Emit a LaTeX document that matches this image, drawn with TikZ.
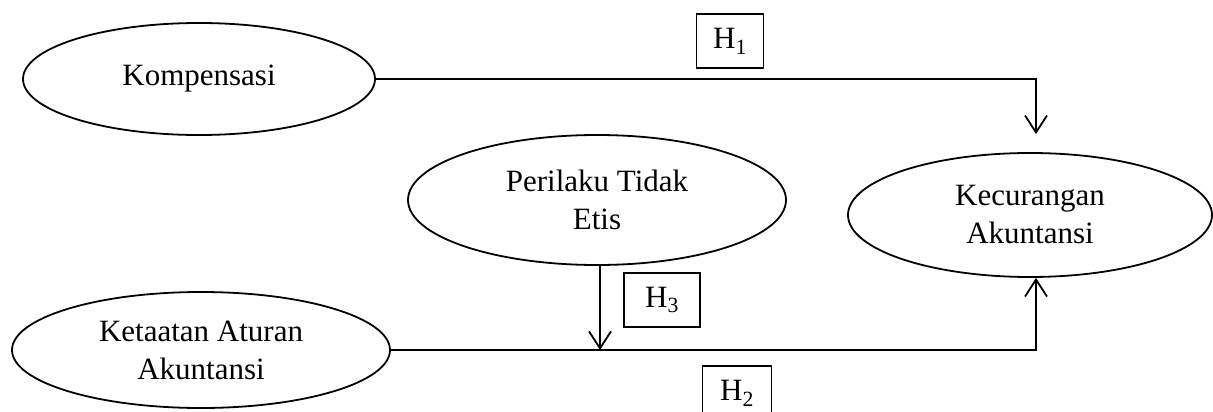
\documentclass[tikz,border=0pt]{standalone}
\usepackage{fontspec}
\setmainfont{Liberation Serif}
\usetikzlibrary{shapes.geometric,arrows.meta,calc}
\begin{document}
\begin{tikzpicture}[x=1pt,y=-1pt,
  ell/.style={draw,ellipse,line width=1.8pt,inner sep=0pt},
  lbl/.style={align=center,font=\fontsize{31}{38}\selectfont,inner sep=0pt},
  hbox/.style={draw,line width=1.3pt,inner sep=0pt,font=\fontsize{31}{38}\selectfont},
  conn/.style={line width=1.8pt},
  arr/.style={conn,-{Straight Barb[length=17pt,width=22pt,line width=1.8pt]}}]
\useasboundingbox (0,0) rectangle (1213,412);
\clip (0,0) rectangle (1213,412);
% ellipses
\node[ell,minimum width=352,minimum height=112] (ko) at (199,79) {};
\node[lbl] at (ko) {Kompensasi};
\node[ell,minimum width=378,minimum height=130] (pe) at (597,200) {};
\node[lbl] at (pe) {Perilaku Tidak\\Etis};
\node[ell,minimum width=364,minimum height=124] (kc) at (1030,215) {};
\node[lbl] at (kc) {Kecurangan\\Akuntansi};
\node[ell,minimum width=378,minimum height=116] (kt) at (201,350) {};
\node[lbl] at (kt) {Ketaatan Aturan\\Akuntansi};
% hypothesis boxes
\node[hbox,minimum width=67,minimum height=54] (h1) at (730,41) {H\textsubscript{1}};
\node[hbox,minimum width=76,minimum height=54] (h3) at (662,300) {H\textsubscript{3}};
\node[hbox,minimum width=69,minimum height=54] (h2) at (737,393) {H\textsubscript{2}};
% connectors
\coordinate (kctop) at ($(kc.north)+(6,-18)$);
\coordinate (kcbot) at ($(kc.south)+(6,0)$);
\draw[arr] (ko.east) -- (ko.east -| kctop) -- (kctop);
\draw[arr] (kt.east) -- (kt.east -| kcbot) -- (kcbot);
\coordinate (mod) at ($(pe.south)+(3,0)$);
\draw[arr] (mod) -- (mod |- kt.east);
\end{tikzpicture}
\end{document}
